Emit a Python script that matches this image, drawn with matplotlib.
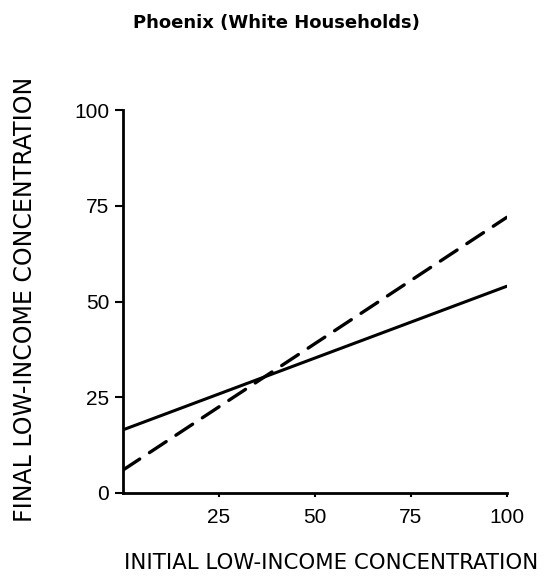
import matplotlib
matplotlib.use("Agg")
import matplotlib.pyplot as plt

plt.rcParams['font.family'] = ['Liberation Sans', 'DejaVu Sans']

# data
x_ends = [0, 100]
solid_y = [16.5, 54]
dashed_y = [6, 72]
x_ticks = [25, 50, 75, 100]
y_ticks = [0, 25, 50, 75, 100]

fig = plt.figure(figsize=(5.45, 5.8), dpi=100)
ax = fig.add_axes([0.2257, 0.15, 0.704, 0.66])

ax.plot(x_ends, solid_y, color='black', lw=2.2, solid_capstyle='round')
ax.plot(x_ends, dashed_y, color='black', lw=2.4, dashes=(6, 3.5), dash_capstyle='round')

ax.set_xlim(0, 100)
ax.set_ylim(0, 100)
ax.set_xticks(x_ticks)
ax.set_yticks(y_ticks)
ax.tick_params(axis='both', labelsize=15, width=1.5, color='black')
ax.tick_params(axis='y', length=6, pad=4)
ax.tick_params(axis='x', length=3, pad=8)

for side in ['top', 'right']:
    ax.spines[side].set_visible(False)
for side in ['left', 'bottom']:
    ax.spines[side].set_linewidth(2)

fig.text(0.508, 0.96, 'Phoenix (White Households)', ha='center', va='center',
         fontsize=13, fontweight='bold', family='DejaVu Sans')
fig.text(0.607, 0.029, 'INITIAL LOW-INCOME CONCENTRATION', ha='center', va='center',
         fontsize=15.3, family='DejaVu Sans')
fig.text(0.045, 0.484, 'FINAL LOW-INCOME CONCENTRATION', ha='center', va='center',
         rotation=90, fontsize=17, family='DejaVu Sans')

fig.savefig('out.png', dpi=100)
